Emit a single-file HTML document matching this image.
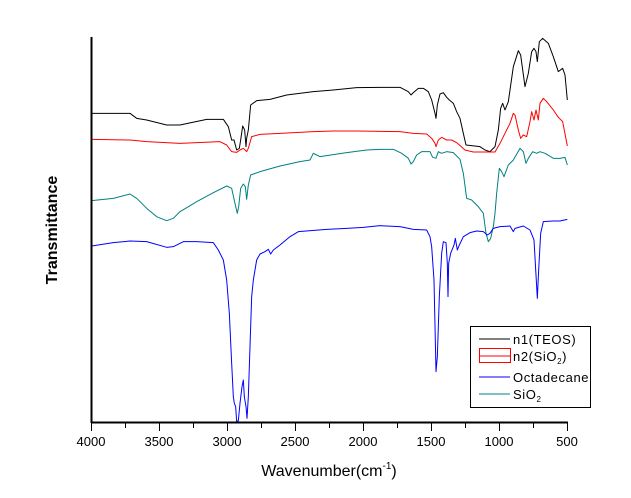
<!DOCTYPE html>
<html><head><style>
body{margin:0;background:#fff}
svg{display:block}
text{font-family:"Liberation Sans",Arial,sans-serif}
</style></head><body>
<svg width="631" height="498" viewBox="0 0 631 498" xmlns="http://www.w3.org/2000/svg">
<g transform="translate(80,20) scale(0.33333)" fill="none" stroke-linejoin="round">
<polyline vector-effect="non-scaling-stroke" stroke="#000" stroke-width="1" points="35,280 150,280 170,295 200,300 260,315 300,315 380,298 430,298 445,320 455,360 462,360 470,390 478,385 482,360 488,318 494,330 498,380 500,355 505,330 512,255 530,242 570,238 620,225 700,215 760,210 830,203 900,202 960,202 985,215 993,225 1000,218 1015,205 1030,205 1045,215 1055,240 1065,280 1068,295 1072,255 1080,222 1090,218 1100,232 1108,240 1120,250 1130,275 1140,295 1150,340 1158,375 1200,380 1215,390 1230,395 1245,380 1255,330 1262,265 1268,250 1275,270 1285,245 1300,140 1315,92 1322,105 1335,200 1345,160 1355,95 1362,85 1368,95 1372,125 1378,65 1388,55 1405,70 1420,110 1435,155 1448,145 1455,165 1462,240"/>
<polyline vector-effect="non-scaling-stroke" stroke="#f00" stroke-width="1" points="35,358 150,360 200,365 300,370 420,365 440,375 455,395 470,397 480,390 490,385 500,395 505,385 515,350 540,343 600,340 700,335 760,333 830,333 960,335 1000,340 1040,342 1055,355 1065,370 1068,380 1075,360 1085,352 1100,360 1115,360 1130,368 1155,390 1180,396 1245,396 1260,370 1275,340 1290,310 1300,280 1305,285 1315,330 1322,355 1330,345 1340,350 1350,305 1355,275 1362,300 1368,270 1375,300 1380,250 1390,235 1400,245 1420,270 1435,292 1448,305 1462,378"/>
<polyline vector-effect="non-scaling-stroke" stroke="#008080" stroke-width="1" points="35,542 100,535 150,522 170,535 200,565 230,590 260,602 280,595 300,575 350,545 400,518 440,498 455,505 465,550 472,580 476,560 482,505 490,492 496,500 500,538 505,495 512,465 540,455 600,438 660,425 690,420 700,400 710,405 720,410 800,398 860,390 900,388 940,388 965,400 985,415 993,432 1000,425 1010,405 1025,395 1050,395 1058,412 1068,415 1075,395 1085,400 1100,395 1120,398 1140,418 1150,460 1160,535 1175,540 1195,560 1210,580 1218,640 1225,665 1232,655 1240,620 1245,580 1250,520 1258,445 1265,455 1272,470 1285,435 1300,420 1320,385 1330,395 1338,430 1345,415 1358,395 1370,400 1380,395 1395,400 1420,415 1440,415 1455,412 1462,435"/>
<polyline vector-effect="non-scaling-stroke" stroke="#00f" stroke-width="1" points="35,678 100,668 150,663 200,665 260,682 280,680 310,665 350,665 400,668 415,690 430,720 440,780 448,880 455,1030 460,1130 463,1150 467,1160 470,1205 475,1202 480,1150 486,1100 490,1080 493,1130 498,1160 501,1195 505,1130 510,980 515,830 520,780 530,720 540,702 555,695 565,688 572,702 580,690 600,675 630,650 655,635 740,628 800,625 850,622 900,617 960,620 1000,628 1040,630 1050,650 1055,680 1062,780 1068,1055 1072,1010 1078,830 1085,700 1090,665 1098,668 1102,730 1104,830 1106,730 1112,700 1122,675 1126,655 1132,690 1138,675 1150,650 1170,638 1190,633 1210,635 1222,645 1230,640 1240,625 1260,620 1290,618 1300,635 1305,625 1330,618 1350,630 1362,660 1366,730 1372,835 1376,750 1382,640 1390,605 1420,603 1440,603 1462,598"/>
</g>
<g stroke="#000" stroke-width="1">
<line x1="91.5" y1="37" x2="91.5" y2="423" stroke-width="2"/>
<line x1="91" y1="422.5" x2="568" y2="422.5" stroke-width="2"/>
<line x1="91.5" y1="423" x2="91.5" y2="431"/><line x1="125.5" y1="423" x2="125.5" y2="428"/>
<line x1="159.5" y1="423" x2="159.5" y2="431"/><line x1="193.5" y1="423" x2="193.5" y2="428"/>
<line x1="227.5" y1="423" x2="227.5" y2="431"/><line x1="261.5" y1="423" x2="261.5" y2="428"/>
<line x1="295.5" y1="423" x2="295.5" y2="431"/><line x1="329.5" y1="423" x2="329.5" y2="428"/>
<line x1="363.5" y1="423" x2="363.5" y2="431"/><line x1="397.5" y1="423" x2="397.5" y2="428"/>
<line x1="431.5" y1="423" x2="431.5" y2="431"/><line x1="465.5" y1="423" x2="465.5" y2="428"/>
<line x1="499.5" y1="423" x2="499.5" y2="431"/><line x1="533.5" y1="423" x2="533.5" y2="428"/>
<line x1="567.5" y1="423" x2="567.5" y2="431"/>
</g>
<g font-size="13" text-anchor="middle" fill="#000">
<text x="91" y="446">4000</text><text x="159" y="446">3500</text><text x="227" y="446">3000</text>
<text x="295" y="446">2500</text><text x="363" y="446">2000</text><text x="431" y="446">1500</text>
<text x="499" y="446">1000</text><text x="567" y="446">500</text>
</g>
<text x="329" y="476" font-size="16" text-anchor="middle">Wavenumber(cm<tspan font-size="10" dy="-7">-1</tspan><tspan dy="7">)</tspan></text>
<text transform="translate(57,230) rotate(-90)" font-size="16" font-weight="bold" text-anchor="middle">Transmittance</text>
<rect x="470.5" y="326.5" width="120" height="81" fill="#fff" stroke="#000"/>
<line x1="479" y1="339" x2="510" y2="339" stroke="#000"/>
<rect x="479.5" y="348.5" width="31" height="14" fill="none" stroke="#f00"/>
<line x1="479" y1="356" x2="510" y2="356" stroke="#f00"/>
<line x1="479" y1="377" x2="510" y2="377" stroke="#00f"/>
<line x1="479" y1="394" x2="510" y2="394" stroke="#008080"/>
<g font-size="13" letter-spacing="0.6" fill="#000">
<text x="513" y="344">n1(TEOS)</text>
<text x="513" y="361">n2(SiO<tspan font-size="8" dy="3">2</tspan><tspan dy="-3">)</tspan></text>
<text x="513" y="382">Octadecane</text>
<text x="513" y="399">SiO<tspan font-size="8" dy="3">2</tspan></text>
</g>
</svg>
</body></html>
